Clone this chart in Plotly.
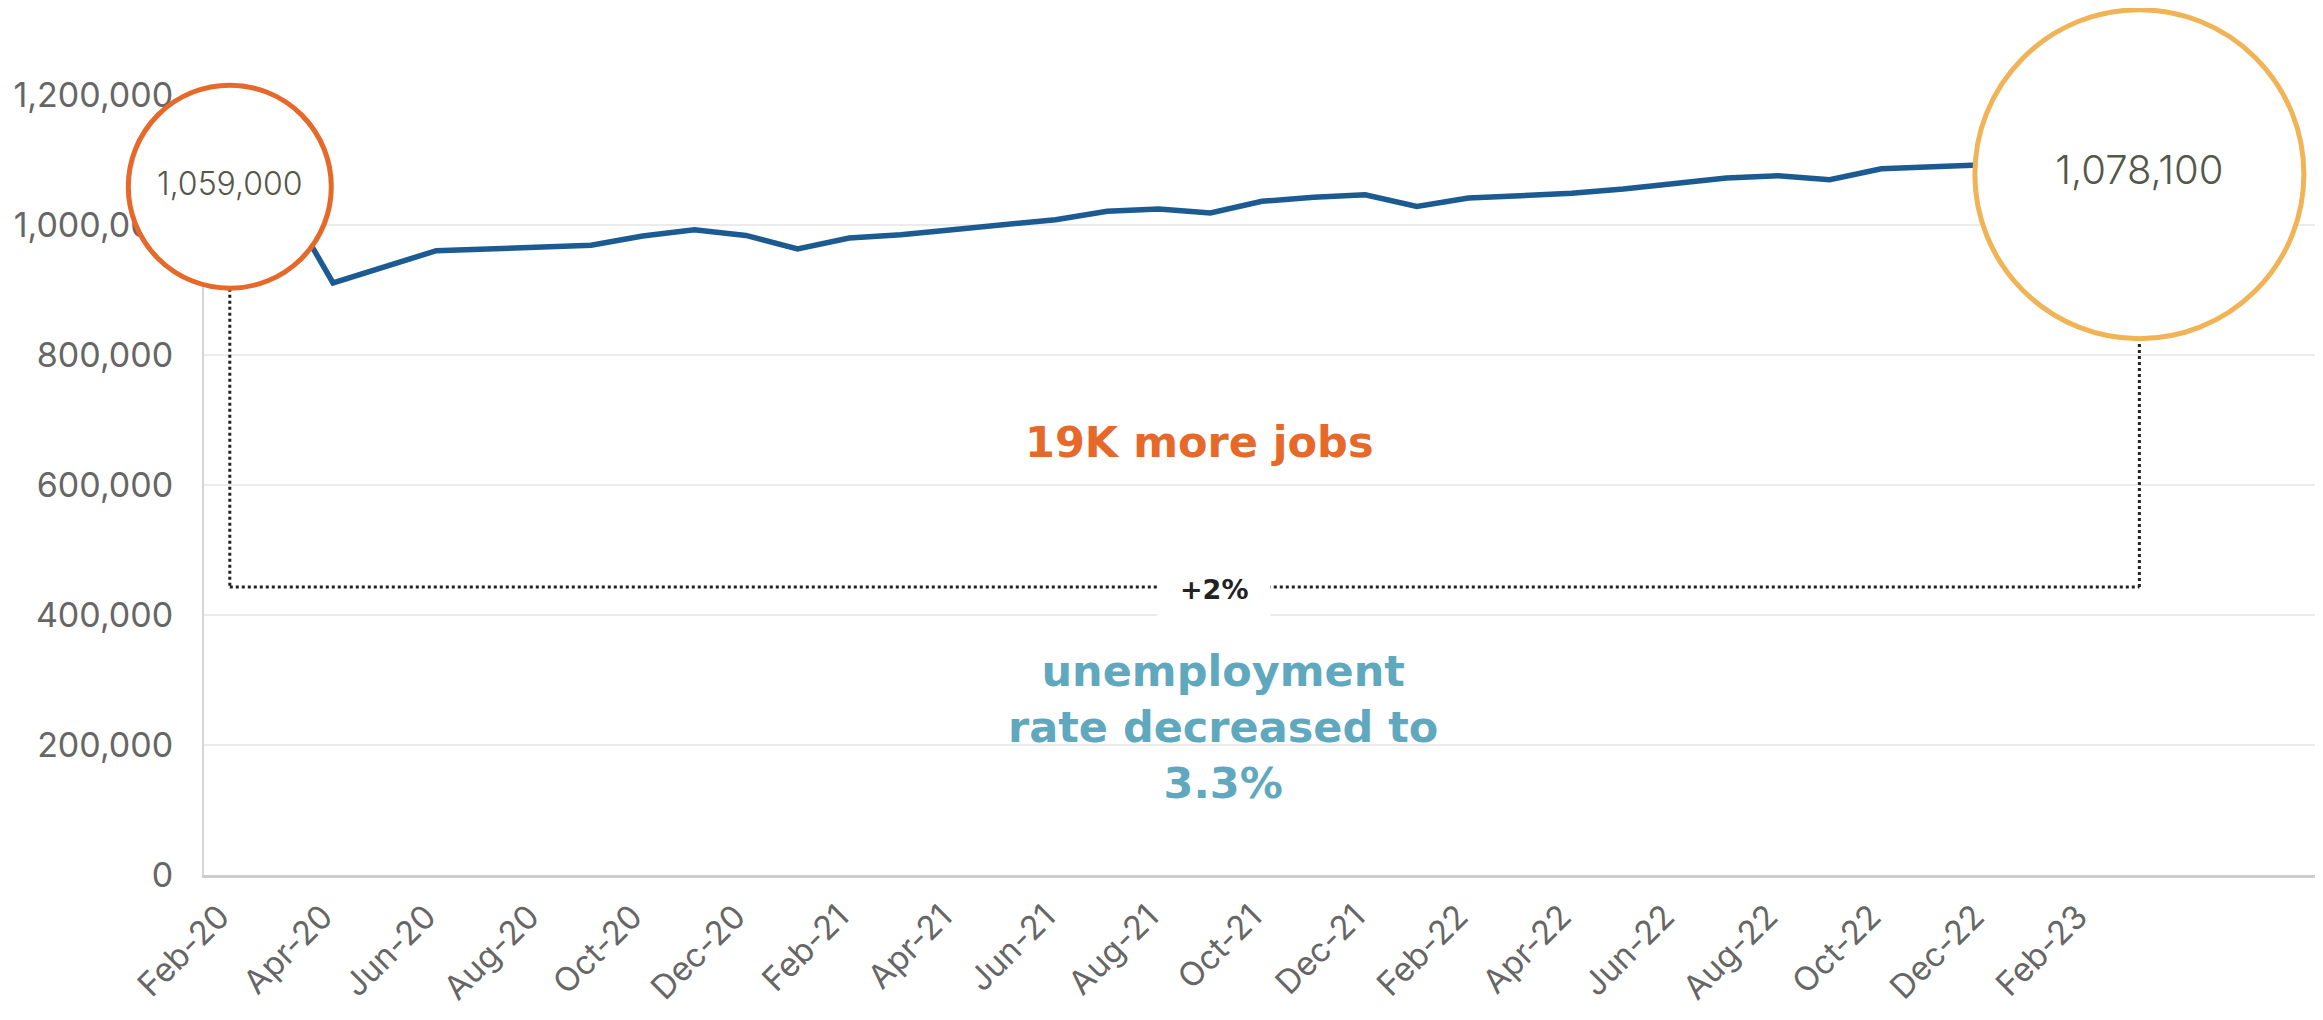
import plotly.graph_objects as go

# ---- data ----
months = ["Feb-20", "Mar-20", "Apr-20", "May-20", "Jun-20", "Jul-20", "Aug-20", "Sep-20",
          "Oct-20", "Nov-20", "Dec-20", "Jan-21", "Feb-21", "Mar-21", "Apr-21", "May-21",
          "Jun-21", "Jul-21", "Aug-21", "Sep-21", "Oct-21", "Nov-21", "Dec-21", "Jan-22",
          "Feb-22", "Mar-22", "Apr-22", "May-22", "Jun-22", "Jul-22", "Aug-22", "Sep-22",
          "Oct-22", "Nov-22", "Dec-22", "Jan-23", "Feb-23", "Mar-23", "Apr-23", "May-23",
          "Jun-23"]
jobs = [1059000, 1048000, 911000, 936000, 960500, 963000, 965700, 968800,
        983000, 992800, 984000, 963100, 980000, 985100, 992800, 1001500,
        1008200, 1021000, 1024600, 1018500, 1036400, 1042600, 1046600, 1028700,
        1041500, 1045000, 1049000, 1055400, 1064600, 1072300, 1075900, 1069800,
        1086600, 1090200, 1092800, 1074000, 1077000, 1078100]
tick_labels = ["Feb-20", "Apr-20", "Jun-20", "Aug-20", "Oct-20", "Dec-20", "Feb-21", "Apr-21",
               "Jun-21", "Aug-21", "Oct-21", "Dec-21", "Feb-22", "Apr-22", "Jun-22", "Aug-22",
               "Oct-22", "Dec-22", "Feb-23"]
y_ticks = [0, 200000, 400000, 600000, 800000, 1000000, 1200000]
bracket_level = 443000

start_month, end_month = months[0], months[len(jobs) - 1]
start_val, end_val = jobs[0], jobs[-1]

ORANGE = "#e6692a"
YELLOW = "#f0b457"
TEAL = "#5fa8bd"
BLUE = "#1c5a92"
GREY_TXT = "#666666"
NUM_TXT = "#55574a"

fig = go.Figure()

fig.add_trace(go.Scatter(
    x=months[:len(jobs)], y=jobs, mode="lines",
    line=dict(color=BLUE, width=5.5), hoverinfo="skip", showlegend=False,
))

# highlighted start / end values (circles)
fig.add_trace(go.Scatter(
    x=[start_month, end_month], y=[start_val, end_val],
    mode="markers+text",
    text=[f"{start_val:,}", f"{end_val:,}"],
    textposition="middle center",
    textfont=dict(family="Inter, sans-serif", size=[32, 40], color=NUM_TXT, weight=300),
    marker=dict(size=[203, 329], color="white", symbol="circle", opacity=1,
                line=dict(color=[ORANGE, YELLOW], width=5)),
    opacity=1, cliponaxis=False, hoverinfo="skip", showlegend=False,
))

dot = dict(color="#222222", width=3, dash="dot")
fig.add_shape(type="line", xref="x", yref="y", x0=start_month, x1=start_month,
              y0=start_val, y1=bracket_level, line=dot, layer="between")
fig.add_shape(type="line", xref="x", yref="y", x0=start_month, x1=end_month,
              y0=bracket_level, y1=bracket_level, line=dot, layer="between")
fig.add_shape(type="line", xref="x", yref="y", x0=end_month, x1=end_month,
              y0=bracket_level, y1=end_val, line=dot, layer="between")

fig.add_annotation(x=0.4775, y=0.366, xref="paper", yref="paper", text="<b>+2%</b>",
                   xanchor="center", yanchor="middle",
                   showarrow=False, bgcolor="white", borderpad=22,
                   font=dict(family="DejaVu Sans, sans-serif", size=27, color="#222222"))
fig.add_annotation(x=0.470, y=0.555, xref="paper", yref="paper", text="<b>19K more jobs</b>",
                   xanchor="center", yanchor="middle", showarrow=False,
                   font=dict(family="DejaVu Sans, sans-serif", size=43, color=ORANGE))
fig.add_annotation(x=0.4815, y=0.190, xref="paper", yref="paper",
                   text="<b>unemployment<br>rate decreased to<br>3.3%</b>",
                   xanchor="center", yanchor="middle", showarrow=False, align="center",
                   font=dict(family="DejaVu Sans, sans-serif", size=43, color=TEAL))

# the page body adds an 8px offset; size the figure so the plot lands where intended
fig.update_layout(
    width=2315, height=1012,
    margin=dict(l=196, r=3, t=87, b=145),
    paper_bgcolor="white", plot_bgcolor="white",
    showlegend=False,
    xaxis=dict(
        type="category", categoryorder="array", categoryarray=months,
        range=[-0.5, len(months) - 0.5],
        tickmode="array", tickvals=tick_labels, ticktext=tick_labels,
        tickangle=-45, tickfont=dict(family="Inter, sans-serif", size=33, color=GREY_TXT),
        showgrid=False, showline=True, linecolor="#cccccc", linewidth=3,
        ticks="", zeroline=False, ticklabelstandoff=6, ticklabelshift=-10,
        layer="below traces",
    ),
    yaxis=dict(
        range=[0, 1200000], tickmode="array", tickvals=y_ticks, tickformat=",",
        tickfont=dict(family="Inter, sans-serif", size=34, color=GREY_TXT),
        showgrid=True, gridcolor="#ebebeb", gridwidth=2,
        showline=True, linecolor="#d6d6d6", linewidth=2,
        zeroline=False, ticks="", ticklabelstandoff=22, layer="below traces",
    ),
)

fig.write_html("out.html")
